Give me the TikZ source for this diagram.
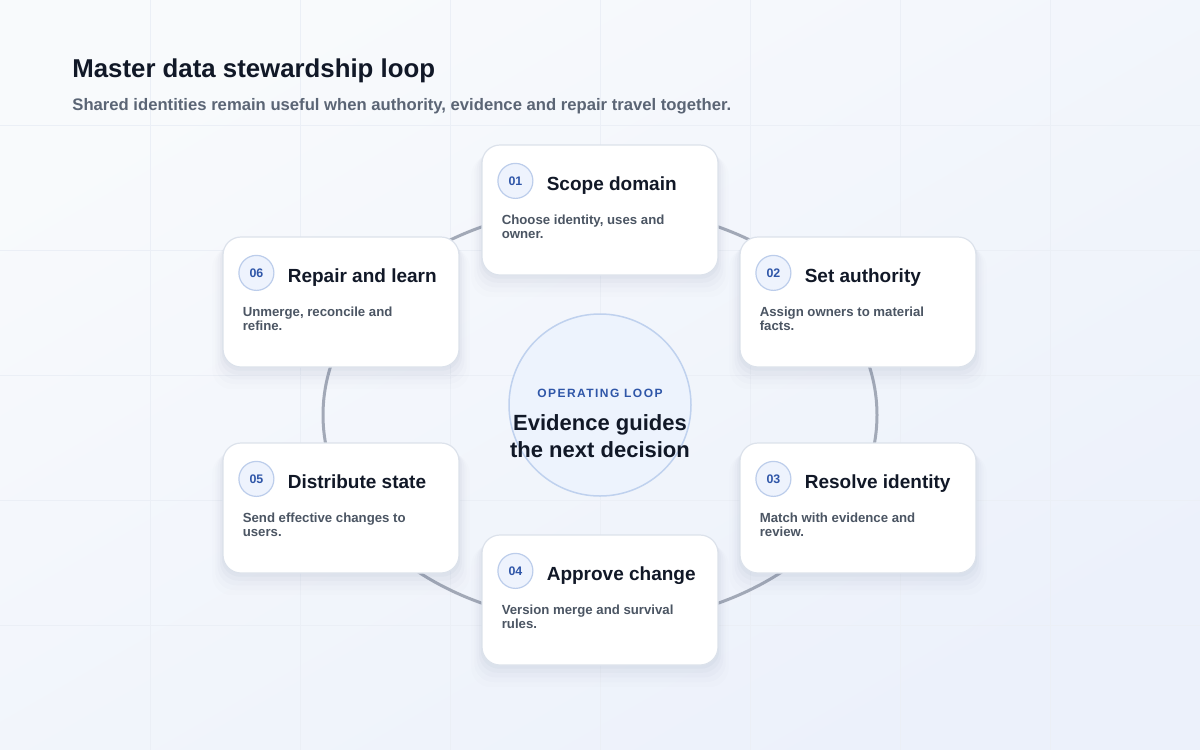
\documentclass[tikz,border=0pt]{standalone}
\usepackage{fontspec}
\setmainfont{Liberation Sans}
\newfontfamily\tagfont[LetterSpace=12]{Liberation Sans}
\usetikzlibrary{shadows}

\definecolor{ink}{HTML}{111827}
\definecolor{muted}{HTML}{5B6575}
\definecolor{bodytext}{HTML}{4B5563}
\definecolor{accent}{HTML}{2F56A8}
\definecolor{badgefill}{HTML}{EEF3FD}
\definecolor{badgeline}{HTML}{BCCDEB}
\definecolor{cardline}{HTML}{DCE2EB}
\definecolor{ringline}{HTML}{A2A9B7}
\definecolor{hubfill}{HTML}{EDF3FD}
\definecolor{hubline}{HTML}{BFD1EE}
\definecolor{bgtop}{HTML}{F8FAFC}
\definecolor{bgbottom}{HTML}{ECF1FB}
\definecolor{gridrule}{HTML}{EBEFF6}
\definecolor{shadowtint}{HTML}{5F6F96}

\begin{document}
\begin{tikzpicture}[
		x=0.5pt, y=-0.5pt,
		card/.style={draw=cardline, line width=0.6pt, fill=white, rounded corners=9pt,
			minimum width=118pt, minimum height=65pt, inner sep=0pt,
			drop shadow={shadow xshift=0pt, shadow yshift=-1.5pt, shadow scale=1.01, opacity=0.04, fill=shadowtint},
			drop shadow={shadow xshift=0pt, shadow yshift=-3pt, shadow scale=1.025, opacity=0.03, fill=shadowtint},
			drop shadow={shadow xshift=0pt, shadow yshift=-4.5pt, shadow scale=1.045, opacity=0.024, fill=shadowtint},
			drop shadow={shadow xshift=0pt, shadow yshift=-6pt, shadow scale=1.065, opacity=0.018, fill=shadowtint},
			drop shadow={shadow xshift=0pt, shadow yshift=-7.5pt, shadow scale=1.09, opacity=0.012, fill=shadowtint}},
		badge/.style={circle, draw=badgeline, line width=0.6pt, fill=badgefill, minimum size=17.5pt,
			inner sep=0pt, text=accent, font=\bfseries\fontsize{6.2}{7}\selectfont},
		cardtitle/.style={anchor=base west, inner sep=0pt, text=ink, font=\bfseries\fontsize{9.5}{11}\selectfont},
		carddesc/.style={anchor=north west, inner sep=0pt, align=left, text=bodytext,
			font=\bfseries\fontsize{6.6}{6.8}\selectfont},
		ring/.style={draw=ringline, line width=1.5pt},
		hub/.style={circle, draw=hubline, line width=0.75pt, fill=hubfill, minimum size=91pt, inner sep=0pt},
		hubtag/.style={anchor=base, inner sep=0pt, text=accent, font=\tagfont\bfseries\fontsize{6}{7}\selectfont},
		hubtext/.style={anchor=base, inner sep=0pt, text=ink, font=\bfseries\fontsize{11}{13.5}\selectfont}
	]
	% backdrop
	\useasboundingbox (0,0) rectangle (1200,750);
	\shade[top color=bgtop, bottom color=bgbottom, shading angle=30] (0,0) rectangle (1200,750);
	\foreach \gx in {150,300,...,1050}
		\draw[gridrule, line width=0.5pt] (\gx,0) -- (\gx,750);
	\foreach \gy in {125,250,...,625}
		\draw[gridrule, line width=0.5pt] (0,\gy) -- (1200,\gy);

	% heading
	\node[anchor=base west, inner sep=0pt, text=ink, font=\bfseries\fontsize{12.9}{15}\selectfont] (title) at (72,77) {Master data stewardship loop};
	\node[anchor=base west, inner sep=0pt, text=muted, font=\bfseries\fontsize{8.33}{10}\selectfont] (subtitle) at (72,110) {Shared identities remain useful when authority, evidence and repair travel together.};

	% loop behind the cards
	\coordinate (loopc) at (600,415);
	\draw[ring] (loopc) ellipse [x radius=277, y radius=208];

	% hub
	\node[hub] (hub) at (600,405) {};
	\node[hubtag] (hubtag) at (600,397) {OPERATING LOOP};
	\node[hubtext] (lead1) at (600,430) {Evidence guides};
	\node[hubtext] (lead2) at (600,457) {the next decision};

	% steps
	\node[card] (scope) at (600,210) {};
	\node[badge] at ([shift={(34,36.5)}]scope.north west) {01};
	\node[cardtitle] at ([shift={(65,46)}]scope.north west) {Scope domain};
	\node[carddesc] at ([shift={(20,70.5)}]scope.north west) {Choose identity, uses and\\owner.};

	\node[card] (authority) at (858,302) {};
	\node[badge] at ([shift={(34,36.5)}]authority.north west) {02};
	\node[cardtitle] at ([shift={(65,46)}]authority.north west) {Set authority};
	\node[carddesc] at ([shift={(20,70.5)}]authority.north west) {Assign owners to material\\facts.};

	\node[card] (resolve) at (858,508) {};
	\node[badge] at ([shift={(34,36.5)}]resolve.north west) {03};
	\node[cardtitle] at ([shift={(65,46)}]resolve.north west) {Resolve identity};
	\node[carddesc] at ([shift={(20,70.5)}]resolve.north west) {Match with evidence and\\review.};

	\node[card] (approve) at (600,600) {};
	\node[badge] at ([shift={(34,36.5)}]approve.north west) {04};
	\node[cardtitle] at ([shift={(65,46)}]approve.north west) {Approve change};
	\node[carddesc] at ([shift={(20,70.5)}]approve.north west) {Version merge and survival\\rules.};

	\node[card] (distribute) at (341,508) {};
	\node[badge] at ([shift={(34,36.5)}]distribute.north west) {05};
	\node[cardtitle] at ([shift={(65,46)}]distribute.north west) {Distribute state};
	\node[carddesc] at ([shift={(20,70.5)}]distribute.north west) {Send effective changes to\\users.};

	\node[card] (repair) at (341,302) {};
	\node[badge] at ([shift={(34,36.5)}]repair.north west) {06};
	\node[cardtitle] at ([shift={(65,46)}]repair.north west) {Repair and learn};
	\node[carddesc] at ([shift={(20,70.5)}]repair.north west) {Unmerge, reconcile and\\refine.};
\end{tikzpicture}
\end{document}
